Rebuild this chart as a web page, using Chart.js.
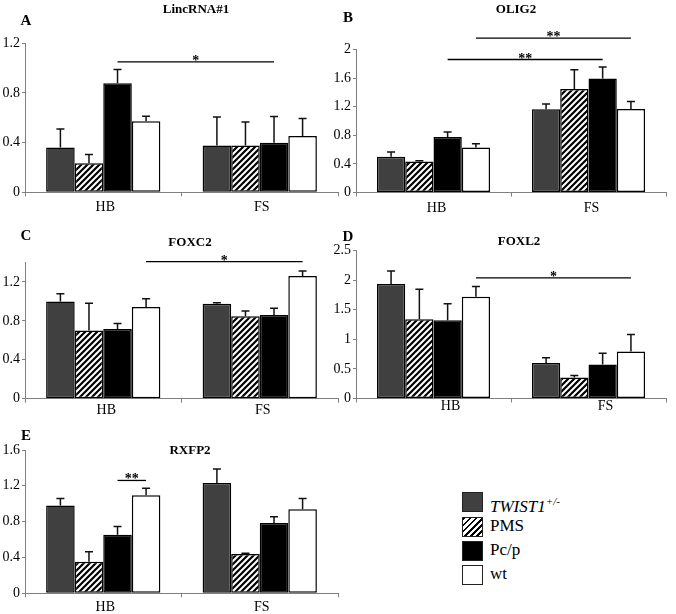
<!DOCTYPE html>
<html>
<head>
<meta charset="utf-8">
<script src="https://cdn.jsdelivr.net/npm/chart.js@4.4.1/dist/chart.umd.min.js"></script>
<style>
  body { margin: 0; background: #fff; font-family: "Liberation Serif", "Times New Roman", serif; }
  #wrap { position: relative; width: 676px; height: 614px; overflow: hidden; }
  canvas { position: absolute; }
  .leg { position: absolute; left: 462px; height: 20px; font-size: 17px; color: #000; }
  .leg .box { position: absolute; left: 0; top: 0; width: 19px; height: 18px; border: 1.3px solid #222; }
  .leg span.t { position: absolute; left: 28px; top: -1px; white-space: nowrap; line-height: 20px; }
</style>
</head>
<body>
<div id="wrap">
  <canvas id="chartA" width="340" height="225" style="left:0;top:0"></canvas>
  <canvas id="chartB" width="350" height="225" style="left:326px;top:0"></canvas>
  <canvas id="chartC" width="340" height="200" style="left:0;top:225px"></canvas>
  <canvas id="chartD" width="350" height="200" style="left:326px;top:225px"></canvas>
  <canvas id="chartE" width="340" height="189" style="left:0;top:425px"></canvas>

  <div class="leg" style="top:492px"><div class="box" style="background:#404040"></div><span class="t"><i>TWIST1<sup style="font-size:11px">+/-</sup></i></span></div>
  <div class="leg" style="top:517px"><div class="box" style="background:repeating-linear-gradient(135deg,#000 0 2px,#fff 2px 4.3px)"></div><span class="t">PMS</span></div>
  <div class="leg" style="top:541px"><div class="box" style="background:#000"></div><span class="t">Pc/p</span></div>
  <div class="leg" style="top:565px"><div class="box" style="background:#fff"></div><span class="t">wt</span></div>
</div>
<script>
// groups and series
const groups = ["HB", "FS"];
const seriesNames = ["TWIST1+/-", "PMS", "Pc/p", "wt"];

// values per series as [HB, FS]
const lincMean = [[0.36, 0.376], [0.234, 0.376], [0.878, 0.40], [0.572, 0.454]];
const lincErr = [[0.15, 0.23], [0.07, 0.19], [0.11, 0.21], [0.04, 0.14]];
const lincTicks = [0, 0.4, 0.8, 1.2];

const oligMean = [[0.50, 1.163], [0.433, 1.447], [0.777, 1.595], [0.628, 1.167]];
const oligErr = [[0.065, 0.075], [0.01, 0.27], [0.07, 0.16], [0.055, 0.105]];
const oligTicks = [0, 0.4, 0.8, 1.2, 1.6, 2];

const foxc2Mean = [[1.0, 0.977], [0.70, 0.847], [0.717, 0.861], [0.943, 1.262]];
const foxc2Err = [[0.08, 0.01], [0.28, 0.055], [0.055, 0.07], [0.085, 0.05]];
const foxc2Ticks = [0, 0.4, 0.8, 1.2];

const foxl2Mean = [[1.937, 0.60], [1.34, 0.355], [1.323, 0.574], [1.723, 0.794]];
const foxl2Err = [[0.22, 0.09], [0.51, 0.035], [0.28, 0.19], [0.17, 0.29]];
const foxl2Ticks = [0, 0.5, 1, 1.5, 2, 2.5];

const rxfpMean = [[0.979, 1.232], [0.353, 0.439], [0.655, 0.785], [1.094, 0.938]];
const rxfpErr = [[0.08, 0.155], [0.11, 0.008], [0.09, 0.07], [0.08, 0.12]];
const rxfpTicks = [0, 0.4, 0.8, 1.2, 1.6];

// significance bars: from/to = [series, group]
const lincSig = [{ from: [2, 0], to: [2, 1], y: 1.05, mark: "*" }];
const oligSig = [
  { from: [3, 0], to: [3, 1], y: 2.16, mark: "**" },
  { from: [2, 0], to: [2, 1], y: 1.86, mark: "**" },
];
const foxc2Sig = [{ from: [3, 0], to: [3, 1], y: 1.41, mark: "*" }];
const foxl2Sig = [{ from: [3, 0], to: [3, 1], y: 2.04, mark: "*" }];
const rxfpSig = [{ from: [2, 0], to: [3, 0], y: 1.26, mark: "**" }];

const FONT = "'Liberation Serif', 'Times New Roman', serif";

function hatch() {
  const p = 6;
  const c = document.createElement("canvas");
  c.width = p; c.height = p;
  const g = c.getContext("2d");
  g.fillStyle = "#fff";
  g.fillRect(0, 0, p, p);
  g.strokeStyle = "#000";
  g.lineWidth = 2.2;
  g.beginPath();
  g.moveTo(0, p); g.lineTo(p, 0);
  g.moveTo(-p / 2, p / 2); g.lineTo(p / 2, -p / 2);
  g.moveTo(p / 2, p * 1.5); g.lineTo(p * 1.5, p / 2);
  g.stroke();
  return g.createPattern(c, "repeat");
}

const fills = ["#404040", null, "#000000", "#ffffff"];

function decor(panel) {
  return {
    id: "decor",
    afterDatasetsDraw(chart) {
      const ctx = chart.ctx;
      const y = chart.scales.y;
      ctx.save();
      // error bars (upper only)
      chart.data.datasets.forEach((ds, i) => {
        chart.getDatasetMeta(i).data.forEach((bar, j) => {
          const top = y.getPixelForValue(ds.data[j] + ds.err[j]);
          ctx.strokeStyle = "#111";
          ctx.lineWidth = 1.5;
          ctx.beginPath();
          ctx.moveTo(bar.x, bar.y);
          ctx.lineTo(bar.x, top);
          ctx.moveTo(bar.x - 4, top);
          ctx.lineTo(bar.x + 4, top);
          ctx.stroke();
        });
      });
      // significance lines
      panel.sig.forEach(s => {
        const a = chart.getDatasetMeta(s.from[0]).data[s.from[1]].x;
        const b = chart.getDatasetMeta(s.to[0]).data[s.to[1]].x;
        const ly = y.getPixelForValue(s.y);
        ctx.strokeStyle = "#000";
        ctx.lineWidth = 1.3;
        ctx.beginPath();
        ctx.moveTo(a, ly);
        ctx.lineTo(b, ly);
        ctx.stroke();
        ctx.fillStyle = "#000";
        ctx.font = "bold 14px " + FONT;
        ctx.textAlign = "center";
        ctx.textBaseline = "alphabetic";
        ctx.fillText(s.mark, (a + b) / 2, ly + 3);
      });
      // panel letter and title
      ctx.fillStyle = "#000";
      ctx.textAlign = "center";
      ctx.textBaseline = "middle";
      ctx.font = "bold 15px " + FONT;
      ctx.fillText(panel.letter, panel.letterAt[0] - panel.left, panel.letterAt[1] - panel.top);
      ctx.font = "bold 13px " + FONT;
      ctx.fillText(panel.title, panel.titleAt[0] - panel.left, panel.titleAt[1] - panel.top);
      ctx.restore();
    },
  };
}

function makePanel(panel) {
  const canvas = document.getElementById(panel.id);
  const pattern = hatch();
  const datasets = panel.mean.map((m, i) => ({
    label: seriesNames[i],
    data: m,
    err: panel.err[i],
    backgroundColor: i === 1 ? pattern : fills[i],
    borderColor: "#000",
    borderWidth: 1.5,
    borderSkipped: false,
    categoryPercentage: 0.73,
    barPercentage: 1,
  }));
  const W = canvas.width, H = canvas.height;
  new Chart(canvas, {
    type: "bar",
    data: { labels: groups, datasets: datasets },
    options: {
      responsive: false,
      animation: false,
      devicePixelRatio: 1,
      layout: {
        padding: {
          left: 0,
          top: panel.plot[2] - panel.top,
          right: panel.left + W - panel.plot[1],
          bottom: 0,
        },
      },
      plugins: { legend: { display: false }, tooltip: { enabled: false } },
      scales: {
        x: {
          afterFit: s => { s.height = panel.top + H - panel.plot[3]; },
          border: { color: "#808080", width: 1 },
          grid: { drawOnChartArea: false, tickLength: 4, color: "#808080", offset: true },
          ticks: {
            color: "#000",
            font: { family: FONT, size: 14 },
            padding: panel.labelPad,
            labelOffset: panel.labelShift,
          },
        },
        y: {
          min: 0,
          max: panel.max,
          afterFit: s => { s.width = panel.plot[0] - panel.left; },
          afterBuildTicks: s => { s.ticks = panel.ticks.map(v => ({ value: v })); },
          border: { color: "#808080", width: 1 },
          grid: { drawOnChartArea: false, tickLength: 3, color: "#808080" },
          ticks: {
            color: "#000",
            font: { family: FONT, size: 14 },
            padding: 2,
            callback: v => String(v),
          },
        },
      },
    },
    plugins: [decor(panel)],
  });
}

// plot = [left, right, top, bottom] in page pixels
makePanel({ id: "chartA", left: 0, top: 0, plot: [25, 338, 43.3, 192.3], max: 1.2,
  mean: lincMean, err: lincErr, ticks: lincTicks, sig: lincSig, labelPad: 3, labelShift: 2,
  letter: "A", letterAt: [26, 21], title: "LincRNA#1", titleAt: [196, 10] });
makePanel({ id: "chartB", left: 326, top: 0, plot: [356, 666, 49.5, 192.5], max: 2,
  mean: oligMean, err: oligErr, ticks: oligTicks, sig: oligSig, labelPad: 3, labelShift: 3,
  letter: "B", letterAt: [348, 18.5], title: "OLIG2", titleAt: [516, 10] });
makePanel({ id: "chartC", left: 0, top: 225, plot: [25, 338, 262.5, 398.7], max: 1.4,
  mean: foxc2Mean, err: foxc2Err, ticks: foxc2Ticks, sig: foxc2Sig, labelPad: -1, labelShift: 3,
  letter: "C", letterAt: [26, 236], title: "FOXC2", titleAt: [190, 243] });
makePanel({ id: "chartD", left: 326, top: 225, plot: [356, 666, 250.7, 398.5], max: 2.5,
  mean: foxl2Mean, err: foxl2Err, ticks: foxl2Ticks, sig: foxl2Sig, labelPad: -5, labelShift: 17,
  letter: "D", letterAt: [348, 237], title: "FOXL2", titleAt: [519, 242] });
makePanel({ id: "chartE", left: 0, top: 425, plot: [25, 338, 450, 593.3], max: 1.6,
  mean: rxfpMean, err: rxfpErr, ticks: rxfpTicks, sig: rxfpSig, labelPad: 2, labelShift: 2,
  letter: "E", letterAt: [26, 436], title: "RXFP2", titleAt: [190, 451] });
</script>
</body>
</html>
